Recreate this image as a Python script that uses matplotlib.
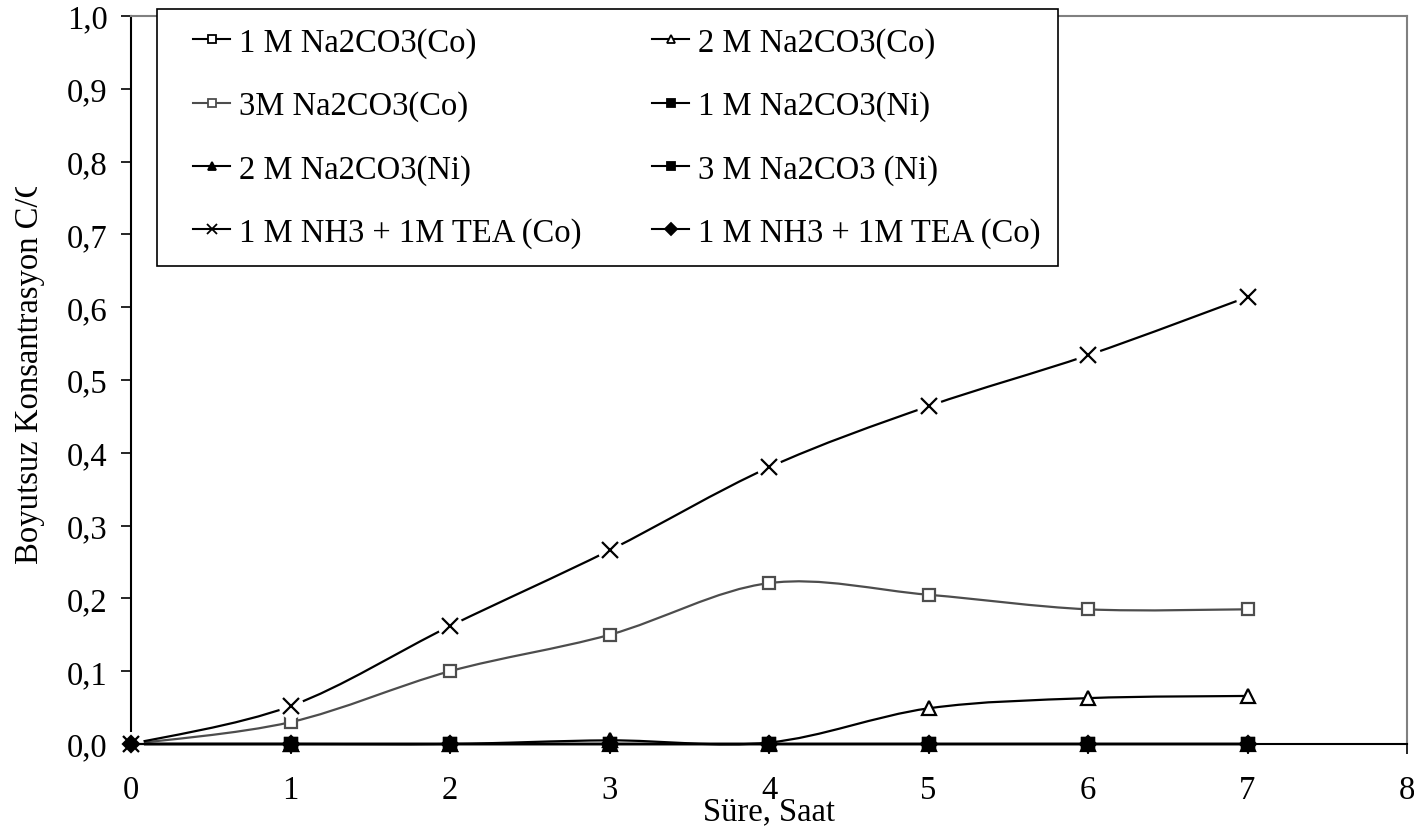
import matplotlib
matplotlib.use("Agg")
import matplotlib.pyplot as plt
import numpy as np
from matplotlib.path import Path
from matplotlib.patches import PathPatch
from matplotlib.lines import Line2D
from matplotlib.legend_handler import HandlerLine2D
from matplotlib.transforms import Bbox, TransformedBbox

plt.rcParams['font.family'] = ['Liberation Serif', 'DejaVu Serif']

# ---------------- data ----------------
time_h = [0, 1, 2, 3, 4, 5, 6, 7]
na2co3_1M_co = [0, 0, 0, 0, 0, 0, 0, 0]
na2co3_2M_co = [0, 0, 0, 0.005, 0.002, 0.049, 0.063, 0.066]
na2co3_3M_co = [0, 0.030, 0.100, 0.150, 0.221, 0.205, 0.185, 0.185]
na2co3_1M_ni = [0, 0, 0, 0, 0, 0, 0, 0]
na2co3_2M_ni = [0, 0, 0, 0, 0, 0, 0, 0]
na2co3_3M_ni = [0, 0, 0, 0, 0, 0, 0, 0]
nh3_tea_co_a = [0, 0.052, 0.162, 0.266, 0.380, 0.464, 0.534, 0.614]
nh3_tea_co_b = [0, 0, 0, 0, 0, 0, 0, 0]

labels = ["1 M Na2CO3(Co)", "2 M Na2CO3(Co)", "3M Na2CO3(Co)", "1 M Na2CO3(Ni)",
          "2 M Na2CO3(Ni)", "3 M Na2CO3 (Ni)", "1 M NH3 + 1M TEA (Co)", "1 M NH3 + 1M TEA (Co)"]
yticklabels = ["0,0", "0,1", "0,2", "0,3", "0,4", "0,5", "0,6", "0,7", "0,8", "0,9", "1,0"]
xticklabels = ["0", "1", "2", "3", "4", "5", "6", "7", "8"]

FS = 23.5

fig = plt.figure(figsize=(14.14, 8.29), dpi=100)
ax = fig.add_axes([131/1414, 1-745/829, (1407-131)/1414, (745-17)/829])


def smooth_path(x, y):
    """Excel-style Bezier smoothing through the data points."""
    pts = np.column_stack([x, y]).astype(float)
    n = len(pts)
    verts = [pts[0]]
    codes = [Path.MOVETO]
    for i in range(n - 1):
        p0 = pts[i - 1] if i > 0 else pts[i]
        p1 = pts[i]
        p2 = pts[i + 1]
        p3 = pts[i + 2] if i + 2 < n else pts[i + 1]
        c1 = p1 + (p2 - p0) / 6.0
        c2 = p2 - (p3 - p1) / 6.0
        verts += [c1, c2, p2]
        codes += [Path.CURVE4] * 3
    return Path(verts, codes)


styles = [
    dict(marker='s', mfc='white', mec='black', color='black', ms=9),
    dict(marker='^', mfc='white', mec='black', color='black', ms=10),
    dict(marker='s', mfc='white', mec='#4d4d4d', color='#4d4d4d', ms=9),
    dict(marker='s', mfc='black', mec='black', color='black', ms=9),
    dict(marker='^', mfc='black', mec='black', color='black', ms=10),
    dict(marker='s', mfc='black', mec='black', color='black', ms=9),
    dict(marker='x', mfc='none', mec='black', color='black', ms=11),
    dict(marker='D', mfc='black', mec='black', color='black', ms=8),
]
series = [na2co3_1M_co, na2co3_2M_co, na2co3_3M_co, na2co3_1M_ni,
          na2co3_2M_ni, na2co3_3M_ni, nh3_tea_co_a, nh3_tea_co_b]

for k, (ys, st) in enumerate(zip(series, styles)):
    z = 3 + k * 0.1
    patch = PathPatch(smooth_path(time_h, ys), facecolor='none', edgecolor=st['color'],
                      lw=1.6, zorder=z, clip_on=False)
    ax.add_patch(patch)
    if st['marker'] == 'x':
        ax.plot(time_h, ys, ls='none', marker='o', ms=17, mfc='white', mec='white',
                zorder=z + 0.01, clip_on=False)
        ax.plot(time_h, ys, ls='none', marker='x', ms=st['ms'], mec='black', mew=1.6,
                zorder=z + 0.02, clip_on=False)
    else:
        ax.plot(time_h, ys, ls='none', marker=st['marker'], ms=st['ms'], mfc=st['mfc'],
                mec=st['mec'], mew=1.6, zorder=z + 0.02, clip_on=False)

ax.set_xlim(0, 8)
ax.set_ylim(0, 1.0)
ax.set_xticks(range(9))
ax.set_xticklabels(xticklabels)
ax.set_yticks(np.linspace(0, 1.0, 11))
ax.set_yticklabels(yticklabels)
ax.tick_params(axis='both', direction='out', length=7, width=1.2, colors='black',
               labelsize=FS)
ax.tick_params(axis='x', pad=15)
ax.tick_params(axis='y', pad=10)
for s in ['left', 'bottom']:
    ax.spines[s].set_color('black')
    ax.spines[s].set_linewidth(1.5)
for s in ['top', 'right']:
    ax.spines[s].set_color('#808080')
    ax.spines[s].set_linewidth(1.5)

# axis titles
fig.text(769/1414, 1-820/829, "Süre, Saat", ha='center', va='baseline', fontsize=FS)
yl = fig.text(30/1414, 1-362/829, "Boyutsuz Konsantrasyon C/Co", rotation=90,
              ha='center', va='center', fontsize=FS)
yl.set_clip_box(TransformedBbox(Bbox([[0, 0], [1, 1-188/829]]), fig.transFigure))
yl.set_clip_on(True)


class IndentHandler(HandlerLine2D):
    def create_artists(self, legend, orig_handle, xdescent, ydescent, width, height,
                       fontsize, trans):
        indent = 0.55 * fontsize
        return super().create_artists(legend, orig_handle, xdescent - indent, ydescent,
                                      width - indent, height, fontsize, trans)


proxies = []
for st in styles:
    if st['marker'] == 'x':
        h = Line2D([], [], color='black', lw=1.5, marker='x', ms=7, mec='black', mew=1.3)
    else:
        h = Line2D([], [], color=st['color'], lw=1.5, marker=st['marker'], ms=6,
                   mfc=st['mfc'], mec=st['mec'], mew=1.3)
    proxies.append(h)

order = [0, 2, 4, 6, 1, 3, 5, 7]
leg = fig.legend([proxies[i] for i in order], [labels[i] for i in order],
                 loc='upper left', bbox_to_anchor=(157/1414, 1-10/829), ncol=2,
                 fontsize=FS, frameon=True, fancybox=False, shadow=False,
                 handlelength=1.7, handletextpad=0.25, columnspacing=1.62,
                 labelspacing=1.0, borderpad=0.55, borderaxespad=0,
                 handler_map={Line2D: IndentHandler(numpoints=1)})
leg.get_frame().set_edgecolor('black')
leg.get_frame().set_linewidth(1.2)
leg.get_frame().set_alpha(None)
leg.get_frame().set_facecolor('white')
leg.set_zorder(10)

fig.savefig("out.png", dpi=100)
